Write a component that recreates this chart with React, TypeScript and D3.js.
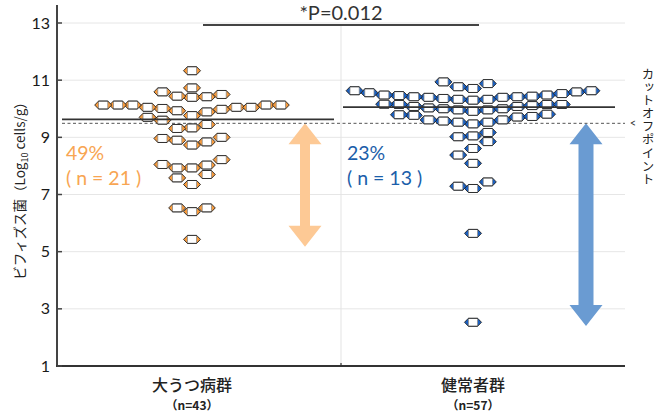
import { scaleLinear, scalePoint } from "d3";

// group labels and sizes
const categories = ["大うつ病群", "健常者群"];
const groupSizeLabels = ["（n=43）", "（n=57）"];

// values listed in the order the swarm places them (centre column first, then outwards)
const depressionValues = [
  11.33, 10.4, 9.76, 9.33, 8.73, 7.93, 7.35, 6.4, 5.43,
  10.44, 9.93, 9.31, 8.9, 7.93, 7.58, 6.53,
  10.42, 9.89, 9.45, 8.84, 8.03, 7.7, 6.53,
  10.59, 10.01, 9.6, 8.96, 8.05,
  10.5, 9.98, 9.0, 8.22,
  10.05, 9.7,
  10.73, 10.05,
  10.13, 10.05, 10.13, 10.13, 10.13, 10.13,
];

const controlValues = [
  10.71, 10.3, 9.91, 9.47, 9.05, 8.61, 8.09, 7.21, 5.64, 2.53,
  10.77, 10.33, 9.96, 9.53, 9.02, 8.38, 7.29,
  10.88, 10.33, 9.96, 9.53, 9.17, 8.85, 7.44,
  10.94, 10.36, 10.0, 9.57,
  10.4, 10.0, 9.61,
  10.4, 10.03, 9.61,
  10.42, 10.08, 9.71,
  10.42, 10.08, 9.77,
  10.44, 10.11, 9.73,
  10.46, 10.15, 9.79,
  10.48, 10.15, 9.81,
  10.48, 10.16,
  10.53, 10.15,
  10.56, 10.59, 10.63, 10.63,
];

const groupMedians = [9.63, 10.06];
const cutoffValue = 9.49;
const belowCutoffPercent = ["49%", "23%"];
const belowCutoffCount = ["( n = 21 )", "( n = 13 )"];
const arrowLowEnds = [5.17, 2.4];
const yTicks = [1, 3, 5, 7, 9, 11, 13];
const pValueLabel = "*P=0.012";
const cutoffLabel = "カットオフポイント";

const WIDTH = 660;
const HEIGHT = 420;
const PLOT_LEFT = 57;
const PLOT_RIGHT = 625;
const PLOT_TOP = 23;
const PLOT_BOTTOM = 366;
const SLOT_WIDTH = 14.8;
const COLLIDE_PX = 8.7;
const LATIN = "Lato, 'Noto Sans CJK JP', sans-serif";
const CJK = "'Noto Sans CJK JP', sans-serif";

const tipColors = ["#f69a3c", "#1a5fc0"];
const labelColors = ["#f8a552", "#1b5eaa"];
const arrowColors = ["#fdc995", "#6a9bd2"];
const arrowShaftWidths = [10, 15];

type Placed = { value: number; slot: number; y: number };

// greedy swarm: each point takes the column nearest the centre that is free at its height
function layoutSwarm(values: number[], y: (v: number) => number): Placed[] {
  const columns = new Map<number, number[]>();
  return values.map((value) => {
    const py = y(value);
    for (let i = 0; ; i++) {
      const slot = i === 0 ? 0 : i % 2 === 1 ? -Math.ceil(i / 2) : Math.ceil(i / 2);
      const taken = columns.get(slot) ?? [];
      if (taken.every((q) => Math.abs(q - py) >= COLLIDE_PX)) {
        taken.push(py);
        columns.set(slot, taken);
        return { value, slot, y: py };
      }
    }
  });
}

function Marker({ x, y, color }: { x: number; y: number; color: string }) {
  const w = 8.5;
  const c = 4.6;
  const h = 4;
  const hex = `M${-w},0L${-c},${-h}L${c},${-h}L${w},0L${c},${h}L${-c},${h}Z`;
  return (
    <g transform={`translate(${x},${y})`}>
      <path d={hex} fill={color} />
      <rect x={-c} y={-h} width={2 * c} height={2 * h} fill="#fff" stroke="#8c8c8c" strokeWidth={0.8} />
      <path d={hex} fill="none" stroke="#222" strokeWidth={0.9} />
    </g>
  );
}

function doubleArrow(cx: number, yTop: number, yBottom: number, shaft: number) {
  const headHalf = 16.5;
  const headLen = 21;
  const s = shaft / 2;
  return [
    `M${cx},${yTop}`,
    `L${cx + headHalf},${yTop + headLen}`,
    `L${cx + s},${yTop + headLen}`,
    `L${cx + s},${yBottom - headLen}`,
    `L${cx + headHalf},${yBottom - headLen}`,
    `L${cx},${yBottom}`,
    `L${cx - headHalf},${yBottom - headLen}`,
    `L${cx - s},${yBottom - headLen}`,
    `L${cx - s},${yTop + headLen}`,
    `L${cx - headHalf},${yTop + headLen}`,
    "Z",
  ].join("");
}

export default function App() {
  const y = scaleLinear().domain([1, 13]).range([PLOT_BOTTOM, PLOT_TOP]);
  const x = scalePoint<string>().domain(categories).range([192, 473]);
  const divider = (PLOT_LEFT + PLOT_RIGHT) / 2;
  const groups = [depressionValues, controlValues].map((vals) => layoutSwarm(vals, y));

  return (
    <div style={{ position: "absolute", left: 0, top: 0 }}>
      <svg width={WIDTH} height={HEIGHT} style={{ display: "block", background: "#fff" }}>
        {/* grid */}
        {yTicks
          .filter((t) => t > 1)
          .map((t) => (
            <line key={t} x1={PLOT_LEFT} x2={PLOT_RIGHT} y1={y(t)} y2={y(t)} stroke="#e6e6e6" strokeWidth={1} />
          ))}
        <line x1={divider} x2={divider} y1={PLOT_TOP + 2} y2={PLOT_BOTTOM} stroke="#e3e3e3" strokeWidth={1} />

        {/* significance bracket */}
        <line x1={203} x2={479} y1={25} y2={25} stroke="#444" strokeWidth={2} />
        <text x={divider} y={20} textAnchor="middle" fontFamily={LATIN} fontSize={20} fill="#333">
          {pValueLabel}
        </text>

        {/* arrows */}
        {categories.map((cat, i) => (
          <path
            key={cat}
            d={doubleArrow((x(cat) ?? 0) + 113, y(cutoffValue), y(arrowLowEnds[i]), arrowShaftWidths[i])}
            fill={arrowColors[i]}
          />
        ))}

        {/* cutoff */}
        <line
          x1={62}
          x2={PLOT_RIGHT}
          y1={y(cutoffValue)}
          y2={y(cutoffValue)}
          stroke="#555"
          strokeWidth={1}
          strokeDasharray="3 2.5"
        />
        <text x={633} y={y(cutoffValue) + 4} textAnchor="middle" fontFamily={LATIN} fontSize={11} fill="#333">
          {"<"}
        </text>
        <text
          x={648}
          y={68}
          fontFamily={CJK}
          fontSize={12.5}
          fill="#222"
          letterSpacing={0.6}
          style={{ writingMode: "vertical-rl" }}
        >
          {cutoffLabel}
        </text>

        {/* points */}
        {categories.map((cat, i) =>
          groups[i].map((p, j) => (
            <Marker key={`${cat}-${j}`} x={(x(cat) ?? 0) + p.slot * SLOT_WIDTH} y={p.y} color={tipColors[i]} />
          ))
        )}

        {/* medians */}
        {categories.map((cat, i) => (
          <line
            key={cat}
            x1={(x(cat) ?? 0) - 130}
            x2={(x(cat) ?? 0) + 142}
            y1={y(groupMedians[i])}
            y2={y(groupMedians[i])}
            stroke="#333"
            strokeWidth={1.8}
          />
        ))}

        {/* percentage notes */}
        {categories.map((cat, i) => {
          const tx = i === 0 ? PLOT_LEFT + 9 : divider + 6;
          return (
            <g key={cat} fill={labelColors[i]} fontFamily={LATIN}>
              <text x={tx} y={160} fontSize={19.5}>
                {belowCutoffPercent[i]}
              </text>
              <text x={tx} y={184.5} fontSize={19.5}>
                {belowCutoffCount[i]}
              </text>
            </g>
          );
        })}

        {/* axes */}
        <line x1={PLOT_LEFT} x2={PLOT_LEFT} y1={5} y2={PLOT_BOTTOM + 1} stroke="#444" strokeWidth={2} />
        <line x1={PLOT_LEFT - 1} x2={PLOT_RIGHT} y1={PLOT_BOTTOM} y2={PLOT_BOTTOM} stroke="#333" strokeWidth={2} />
        <line x1={divider} x2={divider} y1={PLOT_BOTTOM} y2={PLOT_BOTTOM - 3} stroke="#333" strokeWidth={1.2} />
        {yTicks.map((t) => (
          <g key={t}>
            <line x1={PLOT_LEFT} x2={PLOT_LEFT + 5} y1={y(t)} y2={y(t)} stroke="#444" strokeWidth={1.5} />
            <text x={PLOT_LEFT - 7} y={y(t) + 5.5} textAnchor="end" fontFamily={LATIN} fontSize={16} fill="#1a1a1a">
              {t}
            </text>
          </g>
        ))}

        {/* y title */}
        <text
          transform={`translate(25,${(PLOT_TOP + PLOT_BOTTOM) / 2 - 7}) rotate(-90)`}
          textAnchor="middle"
          fontFamily={CJK}
          fontSize={13.5}
          fill="#222"
        >
          ビフィズス菌（Log
          <tspan fontSize={9} dy={3}>
            10
          </tspan>
          <tspan dy={-3}> cells/g）</tspan>
        </text>

        {/* category labels */}
        {categories.map((cat, i) => (
          <g key={cat} textAnchor="middle" fill="#222">
            <text x={x(cat) ?? 0} y={391} fontFamily={CJK} fontSize={16} fontWeight={500}>
              {cat}
            </text>
            <text x={x(cat) ?? 0} y={410} fontFamily={CJK} fontSize={12} fontWeight={700}>
              {groupSizeLabels[i]}
            </text>
          </g>
        ))}
      </svg>
    </div>
  );
}
